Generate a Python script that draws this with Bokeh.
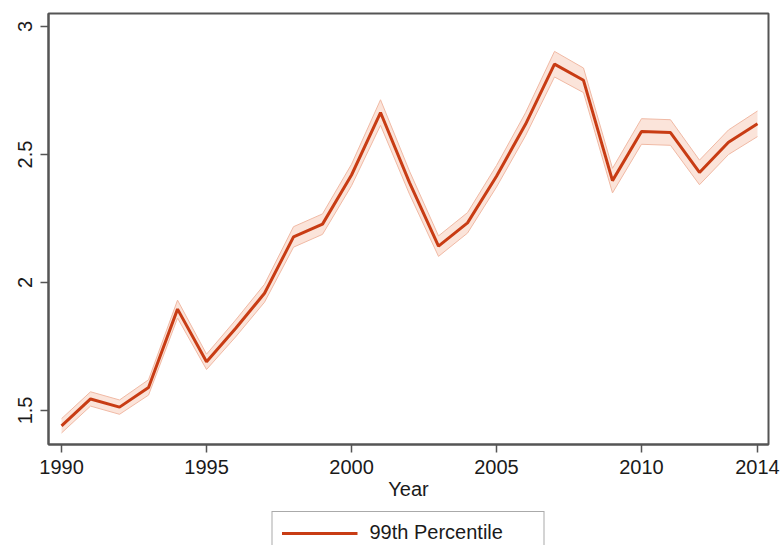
from bokeh.plotting import figure
from bokeh.layouts import column
from bokeh.models import ColumnDataSource, Range1d, FixedTicker, Legend, LegendItem
from bokeh.embed import file_html
from bokeh.resources import INLINE

years = list(range(1990, 2015))
p99 = [1.44, 1.545, 1.513, 1.59, 1.896, 1.69, 1.82, 1.958, 2.178, 2.228,
       2.42, 2.664, 2.39, 2.142, 2.233, 2.415, 2.618, 2.853, 2.79, 2.398,
       2.59, 2.586, 2.43, 2.548, 2.62]
p99_lower = [1.412, 1.517, 1.485, 1.56, 1.861, 1.66, 1.787, 1.923, 2.138, 2.188,
             2.378, 2.614, 2.345, 2.102, 2.193, 2.373, 2.573, 2.803, 2.742, 2.35,
             2.54, 2.536, 2.382, 2.5, 2.57]
p99_upper = [1.468, 1.573, 1.541, 1.62, 1.931, 1.72, 1.853, 1.993, 2.218, 2.268,
             2.462, 2.714, 2.435, 2.182, 2.273, 2.457, 2.663, 2.903, 2.838, 2.446,
             2.64, 2.636, 2.478, 2.596, 2.67]
x_ticks = [1990, 1995, 2000, 2005, 2010, 2014]
y_ticks = [1.5, 2.0, 2.5, 3.0]
y_tick_labels = ["1.5", "2", "2.5", "3"]
series_label = "99th Percentile"
x_title = "Year"

FONT = "Liberation Sans"
FS = "20px"
LINE = "#c83c14"
BAND = "#fbe4da"
BAND_EDGE = "#f0b9a4"
AXIS = "#555555"
TXT = "#1a1a1a"

src = ColumnDataSource(dict(year=years, v=p99, lo=p99_lower, hi=p99_upper))

p = figure(width=780, height=511, output_backend="svg", toolbar_location=None,
           x_range=Range1d(1989.55, 2014.38), y_range=Range1d(1.367, 3.051),
           min_border_left=48, min_border_right=12, min_border_top=13, min_border_bottom=67)

p.varea(x="year", y1="lo", y2="hi", source=src, fill_color=BAND, fill_alpha=1.0)
p.line(x="year", y="lo", source=src, line_color=BAND_EDGE, line_width=1)
p.line(x="year", y="hi", source=src, line_color=BAND_EDGE, line_width=1)
p.line(x="year", y="v", source=src, line_color=LINE, line_width=3)

p.grid.visible = False
p.background_fill_color = "white"
p.border_fill_color = "white"
p.outline_line_color = AXIS
p.outline_line_width = 2

for ax in (p.xaxis[0], p.yaxis[0]):
    ax.axis_line_color = AXIS
    ax.axis_line_width = 2
    ax.major_tick_line_color = AXIS
    ax.major_tick_line_width = 1.5
    ax.major_tick_in = 0
    ax.major_tick_out = 8
    ax.minor_tick_line_color = None
    ax.major_label_text_font = FONT
    ax.major_label_text_font_size = FS
    ax.major_label_text_color = TXT

p.xaxis.ticker = FixedTicker(ticks=x_ticks)
p.xaxis.major_label_standoff = 7
p.xaxis.axis_label = x_title
p.xaxis.axis_label_text_font = FONT
p.xaxis.axis_label_text_font_size = FS
p.xaxis.axis_label_text_font_style = "normal"
p.xaxis.axis_label_text_color = TXT
p.xaxis.axis_label_standoff = 1

p.yaxis.ticker = FixedTicker(ticks=y_ticks)
p.yaxis.major_label_overrides = {t: s for t, s in zip(y_ticks, y_tick_labels)}
p.yaxis.major_label_orientation = "vertical"
p.yaxis.major_label_standoff = 8

# legend strip below the chart (its box is cut by the window edge, as in the reference)
q = figure(width=780, height=34, output_backend="svg", toolbar_location=None,
           x_range=Range1d(0, 1), y_range=Range1d(0, 1),
           x_axis_type=None, y_axis_type=None,
           min_border_left=48, min_border_right=12, min_border_top=0, min_border_bottom=0)
q.grid.visible = False
q.outline_line_color = None
q.background_fill_color = "white"
q.border_fill_color = "white"
key = q.line(x="year", y="v", source=src, line_color=LINE, line_width=3)

legend = Legend(items=[LegendItem(label=series_label, renderers=[key])],
                location="top_center", orientation="horizontal",
                label_text_font=FONT, label_text_font_size=FS,
                label_text_color=TXT, glyph_width=76, glyph_height=20,
                label_standoff=12, label_width=165, padding=9, margin=0,
                border_line_color=AXIS, border_line_width=1.5,
                background_fill_color="white", background_fill_alpha=1.0)
q.add_layout(legend, "center")

layout = column(p, q, spacing=0)
open("out.html", "w").write(file_html(layout, INLINE))
